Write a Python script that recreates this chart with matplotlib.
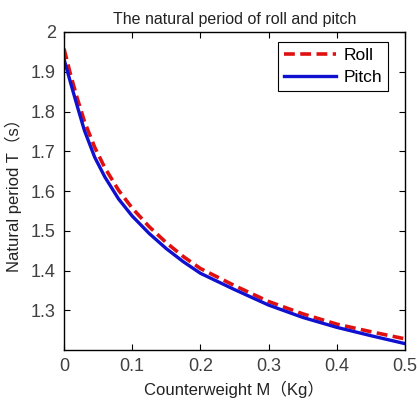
import matplotlib
matplotlib.use("Agg")
import matplotlib.pyplot as plt

plt.rcParams['font.family'] = ['Liberation Sans', 'Noto Sans CJK SC', 'DejaVu Sans']

M = [0, 0.01, 0.02, 0.03, 0.045, 0.06, 0.08, 0.1, 0.125, 0.15, 0.175, 0.2,
     0.25, 0.3, 0.35, 0.4, 0.45, 0.5]
roll = [1.958, 1.89, 1.83, 1.775, 1.71, 1.658, 1.602, 1.557, 1.51, 1.47, 1.435, 1.405,
        1.362, 1.322, 1.291, 1.265, 1.246, 1.228]
pitch = [1.932, 1.87, 1.81, 1.752, 1.685, 1.635, 1.58, 1.537, 1.493, 1.455, 1.422, 1.393,
         1.352, 1.313, 1.282, 1.257, 1.236, 1.216]
xticks = [0, 0.1, 0.2, 0.3, 0.4, 0.5]
xtick_labels = ['0', '0.1', '0.2', '0.3', '0.4', '0.5']
yticks = [1.3, 1.4, 1.5, 1.6, 1.7, 1.8, 1.9, 2.0]
ytick_labels = ['1.3', '1.4', '1.5', '1.6', '1.7', '1.8', '1.9', '2']

fig = plt.figure(figsize=(4.18, 4.01), dpi=100)
ax = fig.add_axes([64/418, 1-350/401, (405-64)/418, (350-32)/401])
ax.plot(M, roll, color='#e01010', linestyle=(0, (3, 1.5)), linewidth=2.6, label='Roll')
ax.plot(M, pitch, color='#1010d0', linestyle='-', linewidth=2.4, label='Pitch')
ax.set_xlim(0, 0.5)
ax.set_ylim(1.2, 2.0)
ax.set_xticks(xticks)
ax.set_xticklabels(xtick_labels)
ax.set_yticks(yticks)
ax.set_yticklabels(ytick_labels)
ax.tick_params(direction='in', top=True, right=True, length=4, width=0.8,
               labelsize=13, colors='black', labelcolor='#404040', pad=6)
for s in ax.spines.values():
    s.set_linewidth(1.0)
ax.set_title('The natural period of roll and pitch', fontsize=11.5, color='#222222', pad=6)
ax.set_xlabel('Counterweight M（Kg）', fontsize=12, color='#222222', labelpad=4)
ax.set_ylabel('Natural period T（s）', fontsize=12, color='#222222', labelpad=6)
leg = ax.legend(loc='upper right', bbox_to_anchor=(388/418, 1-42/401),
                bbox_transform=fig.transFigure, fontsize=12.5, fancybox=False,
                edgecolor='black', framealpha=1, handlelength=3.0, borderpad=0.35,
                labelspacing=0.4, handletextpad=0.4, borderaxespad=0)
leg.get_frame().set_linewidth(0.8)
fig.savefig('out.png', dpi=100)
